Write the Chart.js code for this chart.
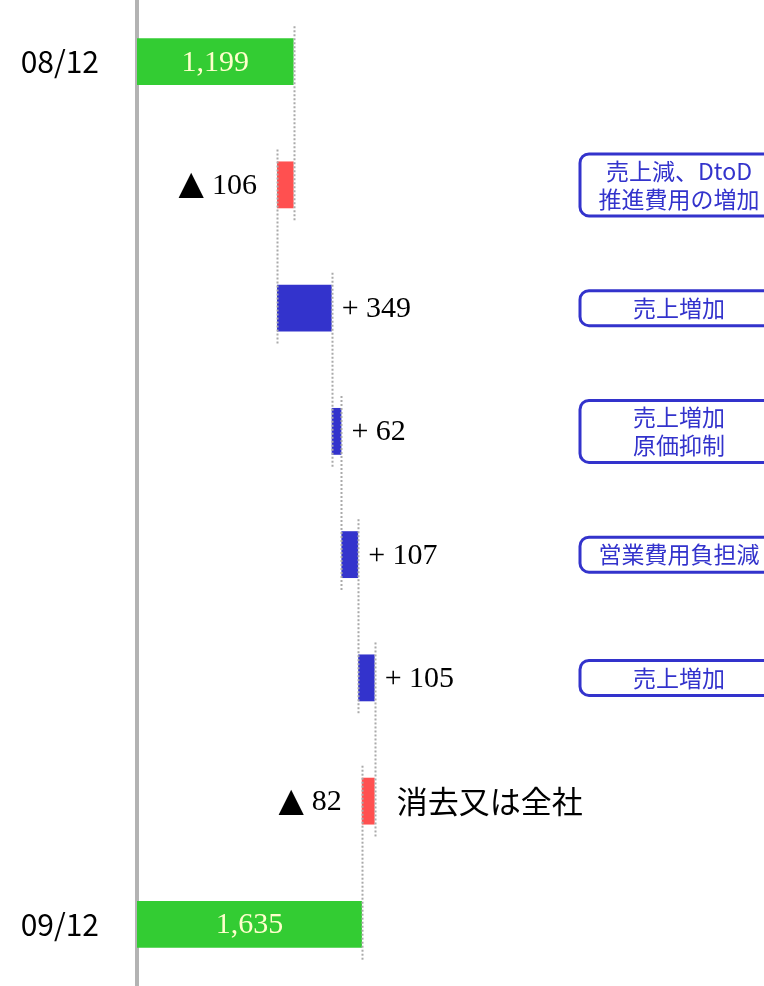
<!DOCTYPE html>
<html>
<head>
<meta charset="utf-8">
<script src="https://cdn.jsdelivr.net/npm/chart.js@4"></script>
<style>
body { margin: 0; background: #fff; }
#wrap { width: 764px; height: 986px; }
</style>
</head>
<body>
<div id="wrap"><canvas id="waterfall"></canvas></div>
<script>
const categories = ['08/12', '', '', '', '', '', '', '09/12'];
const startTotal = 1199;
const endTotal = 1635;
const changes = [-106, 349, 62, 107, 105, -82];
const notes = ['', '売上減、DtoD\n推進費用の増加', '売上増加', '売上増加\n原価抑制', '営業費用負担減', '売上増加', '', ''];
const sideNotes = ['', '', '', '', '', '', '消去又は全社', ''];

// floating bars [from, to], running level after each row
const bars = [[0, startTotal]];
const levels = [startTotal];
let run = startTotal;
changes.forEach(c => { bars.push([run, run + c]); run += c; levels.push(run); });
bars.push([0, endTotal]);

const GREEN = '#33cc33', RED = '#ff5050', BLUE = '#3333cc';
const isTotal = i => i === 0 || i === bars.length - 1;
const colors = bars.map((b, i) => isTotal(i) ? GREEN : (b[1] > b[0] ? BLUE : RED));

function roundRect(ctx, x, y, w, h, r) {
    ctx.beginPath();
    ctx.moveTo(x + r, y);
    ctx.lineTo(x + w - r, y);
    ctx.arcTo(x + w, y, x + w, y + r, r);
    ctx.lineTo(x + w, y + h - r);
    ctx.arcTo(x + w, y + h, x + w - r, y + h, r);
    ctx.lineTo(x + r, y + h);
    ctx.arcTo(x, y + h, x, y + h - r, r);
    ctx.lineTo(x, y + r);
    ctx.arcTo(x, y, x + r, y, r);
    ctx.closePath();
}

const SERIF = '30px "Liberation Serif", "Times New Roman", serif';

const extras = {
    id: 'extras',
    afterDatasetsDraw(chart) {
        const ctx = chart.ctx;
        const meta = chart.getDatasetMeta(0);
        const xs = chart.scales.x;
        const area = chart.chartArea;
        ctx.save();

        // dotted connectors between neighbouring bars
        ctx.strokeStyle = '#aaaaaa';
        ctx.lineWidth = 2;
        ctx.setLineDash([2, 2]);
        levels.forEach((lv, i) => {
            const px = Math.round(xs.getPixelForValue(lv)) + 0.5;
            const a = meta.data[i], b = meta.data[i + 1];
            ctx.beginPath();
            ctx.moveTo(px, a.y - a.height / 2 - 12);
            ctx.lineTo(px, b.y + b.height / 2 + 12);
            ctx.stroke();
        });
        ctx.setLineDash([]);

        // value labels
        ctx.textBaseline = 'middle';
        meta.data.forEach((bar, i) => {
            const [from, to] = bars[i];
            ctx.font = SERIF;
            if (isTotal(i)) {
                ctx.fillStyle = '#ffffcc';
                ctx.textAlign = 'center';
                ctx.fillText(to.toLocaleString('en-US'), (area.left + bar.x) / 2, bar.y + 1);
            } else if (to < from) {
                ctx.fillStyle = '#000';
                ctx.textAlign = 'right';
                const num = String(from - to);
                const xr = Math.min(bar.x, bar.base) - 20;
                ctx.fillText(num, xr, bar.y + 1);
                const w = ctx.measureText(num).width;
                ctx.font = '33px "DejaVu Sans", sans-serif';
                ctx.fillText('▲', xr - w - 8, bar.y + 1);
            } else {
                ctx.fillStyle = '#000';
                ctx.textAlign = 'left';
                ctx.fillText('+ ' + (to - from), Math.max(bar.x, bar.base) + 10, bar.y + 1);
            }
        });

        // boxed notes on the right
        const boxL = area.left + 443, boxR = area.right + 14, cx = area.left + 542;
        ctx.font = '23px "Noto Sans CJK JP", sans-serif';
        notes.forEach((n, i) => {
            if (!n) return;
            const lines = n.split('\n');
            const h = lines.length * 27 + 8;
            const y = meta.data[i].y;
            ctx.strokeStyle = BLUE;
            ctx.lineWidth = 3;
            roundRect(ctx, boxL, y - h / 2, boxR - boxL, h, 9);
            ctx.stroke();
            ctx.fillStyle = BLUE;
            ctx.textAlign = 'center';
            lines.forEach((ln, k) => {
                ctx.fillText(ln, cx, y + (k - (lines.length - 1) / 2) * 28);
            });
        });

        // plain note beside a bar
        ctx.font = '31px "Noto Sans CJK JP", sans-serif';
        ctx.fillStyle = '#000';
        ctx.textAlign = 'left';
        sideNotes.forEach((n, i) => {
            if (!n) return;
            const bar = meta.data[i];
            ctx.fillText(n, Math.max(bar.x, bar.base) + 22, bar.y);
        });
        ctx.restore();
    }
};

new Chart(document.getElementById('waterfall').getContext('2d'), {
    type: 'bar',
    data: {
        labels: categories,
        datasets: [{
            data: bars,
            backgroundColor: colors,
            borderWidth: 0,
            barPercentage: 0.38,
            categoryPercentage: 1
        }]
    },
    options: {
        indexAxis: 'y',
        responsive: true,
        maintainAspectRatio: false,
        animation: false,
        layout: { padding: 0 },
        plugins: {
            legend: { display: false },
            tooltip: { enabled: false }
        },
        scales: {
            x: {
                display: false,
                min: 200,
                max: 4200
            },
            y: {
                grid: { display: false, drawTicks: false },
                border: { display: true, color: '#b3b3b3', width: 4 },
                ticks: {
                    color: '#000',
                    padding: 38,
                    font: { family: '"Noto Sans CJK JP", sans-serif', size: 30 }
                },
                afterFit: s => {
                    s.width = 137;
                    s.paddingTop = 0;
                    s.paddingBottom = 0;
                }
            }
        }
    },
    plugins: [extras]
});
</script>
</body>
</html>
